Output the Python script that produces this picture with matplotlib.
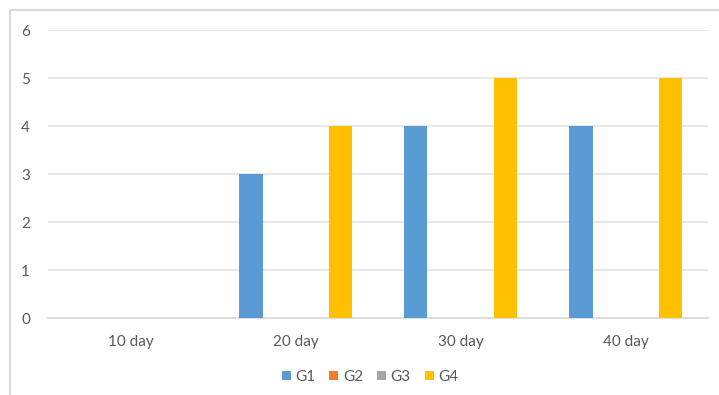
import numpy as np
import matplotlib
matplotlib.use('Agg')
import matplotlib.pyplot as plt
from matplotlib.lines import Line2D

categories = ['10 day', '20 day', '30 day', '40 day']
series_names = ['G1', 'G2', 'G3', 'G4']
g1 = [0, 3, 4, 4]
g2 = [0, 0, 0, 0]
g3 = [0, 0, 0, 0]
g4 = [0, 4, 5, 5]
colors = ['#5B9BD5', '#ED7D31', '#A5A5A5', '#FFC000']

plt.rcParams['font.family'] = ['Lato', 'DejaVu Sans']

W, H = 719, 395
fig = plt.figure(figsize=(W / 100, H / 100), dpi=100)
ax = fig.add_axes([48 / W, (H - 318) / H, 660 / W, 288 / H])

x = np.arange(len(categories))
step = 0.18
width = 0.14
for i, (vals, name) in enumerate(zip([g1, g2, g3, g4], series_names)):
    ax.bar(x + (i - 1.5) * step, vals, width, color=colors[i], label=name, zorder=3)

ax.set_xlim(-0.5, len(categories) - 0.5)
ax.set_ylim(0, 6)
ax.set_yticks(range(0, 7))
ax.set_xticks(x)
ax.set_xticklabels(categories)
ax.yaxis.grid(True, color='#E3E3E3', linewidth=1.2, zorder=0)
for s in ['top', 'right', 'left']:
    ax.spines[s].set_visible(False)
ax.spines['bottom'].set_color('#D9D9D9')
ax.spines['bottom'].set_linewidth(1.2)
ax.tick_params(axis='both', length=0, colors='#595959', labelsize=11)
ax.tick_params(axis='y', pad=13)
ax.tick_params(axis='x', pad=12)

leg = fig.legend(loc='center', bbox_to_anchor=(370 / W, (H - 377) / H), ncol=4,
                 frameon=False, fontsize=11, handlelength=0.6, handleheight=0.6,
                 handletextpad=0.3, columnspacing=0.9)
for t in leg.get_texts():
    t.set_color('#595959')

# chart area border (only top and left visible in the crop)
fig.add_artist(Line2D([10 / W, 1], [1 - 10 / H, 1 - 10 / H], transform=fig.transFigure,
                      color='#D9D9D9', linewidth=1.5))
fig.add_artist(Line2D([10 / W, 10 / W], [0, 1 - 10 / H], transform=fig.transFigure,
                      color='#D9D9D9', linewidth=1.5))

fig.savefig('out.png', dpi=100)
